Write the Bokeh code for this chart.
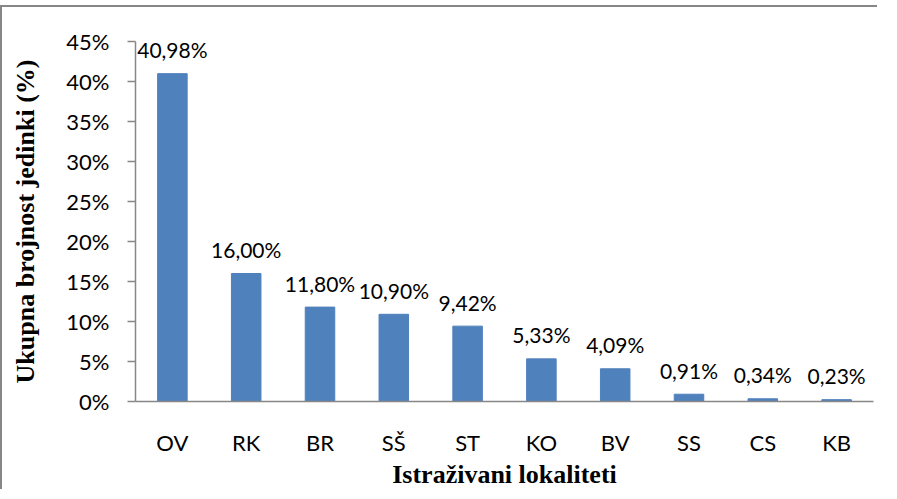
from bokeh.plotting import figure
from bokeh.models import (ColumnDataSource, FactorRange, Range1d, FixedTicker,
                          PrintfTickFormatter, LabelSet)
from bokeh.core.properties import value
from bokeh.embed import file_html
from bokeh.resources import INLINE

# ---- data ----
categories = ["OV", "RK", "BR", "SŠ", "ST", "KO", "BV", "SS", "CS", "KB"]
values = [40.98, 16.00, 11.80, 10.90, 9.42, 5.33, 4.09, 0.91, 0.34, 0.23]
y_ticks = [0, 5, 10, 15, 20, 25, 30, 35, 40, 45]
y_title = "Ukupna brojnost jedinki (%)"
x_title = "Istraživani lokaliteti"

labels = [f"{v:.2f}".replace(".", ",") + "%" for v in values]
source = ColumnDataSource(dict(cat=categories, val=values, lab=labels))

AXIS_GRAY = "#878787"
BAR_BLUE = "#4F81BD"
TICK_FONT = "Lato"
TITLE_FONT = "Liberation Serif"

p = figure(width=879, height=484, output_backend="svg", toolbar_location=None,
           x_range=FactorRange(*categories, range_padding=0),
           y_range=Range1d(0, 45),
           min_border_left=133, min_border_right=8,
           min_border_top=34, min_border_bottom=89)
p.margin = (7, 0, -8, 2)
p.border_fill_color = "white"
p.background_fill_color = "white"
p.outline_line_color = None
p.styles = {"box-shadow": "-2px -2px 0px 0px #878787",
            "clip-path": "inset(-4px 4px 0px -4px)"}

p.vbar(x="cat", top="val", width=0.4, source=source, color=BAR_BLUE)

lbl = LabelSet(x="cat", y="val", text="lab", source=source,
               text_align="center", text_baseline="middle", y_offset=24,
               text_font=value(TICK_FONT), text_font_size=value("21px"),
               text_color="black")
p.add_layout(lbl)

p.xgrid.visible = False
p.ygrid.visible = False

# y axis
ya = p.yaxis[0]
ya.ticker = FixedTicker(ticks=y_ticks)
ya.formatter = PrintfTickFormatter(format="%d%%")
ya.axis_line_color = AXIS_GRAY
ya.axis_line_width = 1.5
ya.major_tick_line_color = AXIS_GRAY
ya.major_tick_line_width = 1.5
ya.major_tick_out = 8
ya.major_tick_in = 0
ya.minor_tick_line_color = None
ya.major_label_standoff = 18
ya.major_label_text_font = TICK_FONT
ya.major_label_text_font_size = "22px"
ya.major_label_text_color = "black"
ya.axis_label = y_title
ya.axis_label_text_font = TITLE_FONT
ya.axis_label_text_font_style = "bold"
ya.axis_label_text_font_size = "26px"
ya.axis_label_text_color = "black"
ya.axis_label_standoff = 23

# x axis
xa = p.xaxis[0]
xa.axis_line_color = AXIS_GRAY
xa.axis_line_width = 1.5
xa.major_tick_line_color = None
xa.major_tick_out = 0
xa.major_tick_in = 0
xa.minor_tick_line_color = None
xa.major_label_standoff = 27
xa.major_label_text_font = TICK_FONT
xa.major_label_text_font_size = "22px"
xa.major_label_text_color = "black"
xa.axis_label = x_title
xa.axis_label_text_font = TITLE_FONT
xa.axis_label_text_font_style = "bold"
xa.axis_label_text_font_size = "26px"
xa.axis_label_text_color = "black"
xa.axis_label_standoff = 1

open("out.html", "w").write(file_html(p, INLINE))
